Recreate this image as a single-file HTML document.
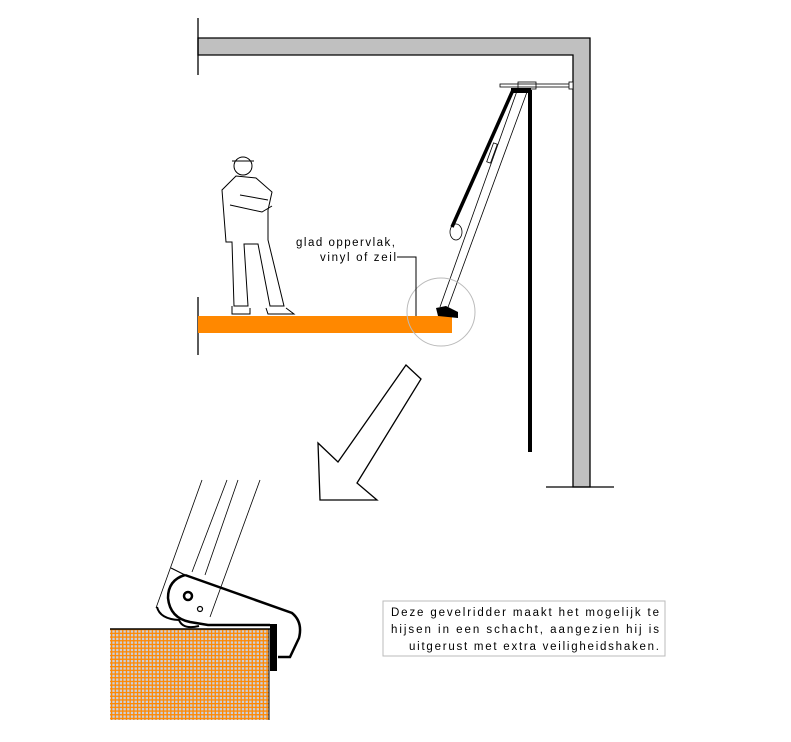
<!DOCTYPE html>
<html><head><style>body{margin:0;background:#fff}svg{display:block}text{font-family:"Liberation Sans",sans-serif;font-size:11.5px;fill:#000}</style></head>
<body>
<svg width="791" height="742" viewBox="0 0 791 742" xmlns="http://www.w3.org/2000/svg">
<defs>
<pattern id="g" width="3.7" height="3.7" patternUnits="userSpaceOnUse">
<rect width="3.7" height="3.7" fill="#c8d0e0"/>
<rect width="3.7" height="1.3" fill="#ff8800"/><rect width="1.3" height="3.7" fill="#ff8800"/>
</pattern>
</defs>
<path d="M198,38 H590 V487 H573 V55 H198 Z" fill="#c0c0c0" stroke="#000" stroke-width="1.3"/>
<line x1="198" y1="18" x2="198" y2="75" stroke="#000" stroke-width="1.3"/>
<line x1="198" y1="297" x2="198" y2="355" stroke="#000" stroke-width="1.3"/>
<line x1="546" y1="487" x2="614" y2="487" stroke="#000" stroke-width="1.3"/>
<rect x="198" y="316" width="254" height="17" fill="#ff8800"/>
<rect x="500" y="84" width="70" height="3" fill="#fff" stroke="#000" stroke-width="0.8"/>
<rect x="518" y="82" width="18" height="7" fill="none" stroke="#000" stroke-width="0.8"/>
<rect x="569" y="82" width="4" height="7" fill="#fff" stroke="#000" stroke-width="0.8"/>
<line x1="530" y1="90" x2="530" y2="452" stroke="#000" stroke-width="4"/>
<line x1="513" y1="90" x2="452" y2="227" stroke="#000" stroke-width="3.5"/>
<line x1="517" y1="91" x2="440" y2="307" stroke="#000" stroke-width="0.8"/>
<line x1="527" y1="92" x2="447" y2="310" stroke="#000" stroke-width="0.8"/>
<rect x="511" y="88" width="20" height="5" fill="#000"/>
<path d="M436,308 l10,-2 l12,6 v6 l-20,-2 z" fill="#000"/>
<ellipse cx="456" cy="232" rx="6" ry="8" fill="none" stroke="#000" stroke-width="0.8"/>
<rect x="490" y="143" width="4" height="20" fill="none" stroke="#000" stroke-width="0.8" transform="rotate(20 492 153)"/>
<circle cx="441" cy="312" r="34" fill="none" stroke="#bbb" stroke-width="1"/>
<g fill="none" stroke="#000" stroke-width="1">
<circle cx="243" cy="166" r="9"/>
<line x1="232" y1="161" x2="254" y2="161"/>
<path d="M236,176 L222,190 L226,242 L232,242 L234,306 L248,306 L244,244 L258,244 L270,306 L284,306 L268,240 L268,210 L272,192 L256,178 Z"/>
<path d="M230,205 L262,212 L272,206 M240,195 L268,200"/>
<path d="M232,306 v8 h18 v-6 M266,308 l2,6 h26 l-8,-6"/>
</g>
<text x="296" y="246" textLength="99" lengthAdjust="spacing">glad oppervlak,</text>
<text x="320" y="261" textLength="76" lengthAdjust="spacing">vinyl of zeil</text>
<polyline points="397,257 416,257 416,316" fill="none" stroke="#000" stroke-width="1"/>
<polygon points="320,500 318,443 338,462 406,365 421,379 357,483 377,500" fill="#fff" stroke="#000" stroke-width="1.3"/>
<rect x="110" y="629" width="159" height="91" fill="url(#g)"/>
<line x1="110" y1="629" x2="270" y2="629" stroke="#000" stroke-width="1.5"/>
<line x1="269" y1="629" x2="269" y2="720" stroke="#000" stroke-width="1"/>
<rect x="270" y="624" width="7" height="47" fill="#000"/>
<g fill="none" stroke="#000" stroke-width="0.8">
<line x1="202" y1="480" x2="156" y2="608"/>
<line x1="227" y1="480" x2="192" y2="572"/>
<line x1="238" y1="480" x2="205" y2="575"/>
<line x1="260" y1="480" x2="210" y2="617"/>
</g>
<path d="M185,575 L292,613 Q303,622 299,638 L290,657 H278" fill="none" stroke="#000" stroke-width="2.5"/>
<path d="M185,575 Q168,580 168,598 Q170,618 190,622 L208,625 L270,625" fill="none" stroke="#000" stroke-width="2.5"/>
<path d="M157,607 q3,12 22,13 q4,10 20,6" fill="none" stroke="#000" stroke-width="2"/>
<line x1="171" y1="568" x2="185" y2="575" stroke="#000" stroke-width="1.2"/>
<circle cx="188" cy="596" r="4" fill="none" stroke="#000" stroke-width="2.5"/>
<circle cx="200" cy="609" r="2.5" fill="none" stroke="#000" stroke-width="1.2"/>
<rect x="383" y="601" width="282" height="55" fill="#fff" stroke="#bbb" stroke-width="1"/>
<text x="391" y="616" textLength="268" lengthAdjust="spacing">Deze gevelridder maakt het mogelijk te</text>
<text x="391" y="633" textLength="268" lengthAdjust="spacing">hijsen in een schacht, aangezien hij is</text>
<text x="409" y="650" textLength="250" lengthAdjust="spacing">uitgerust met extra veiligheidshaken.</text>
</svg>
</body></html>
